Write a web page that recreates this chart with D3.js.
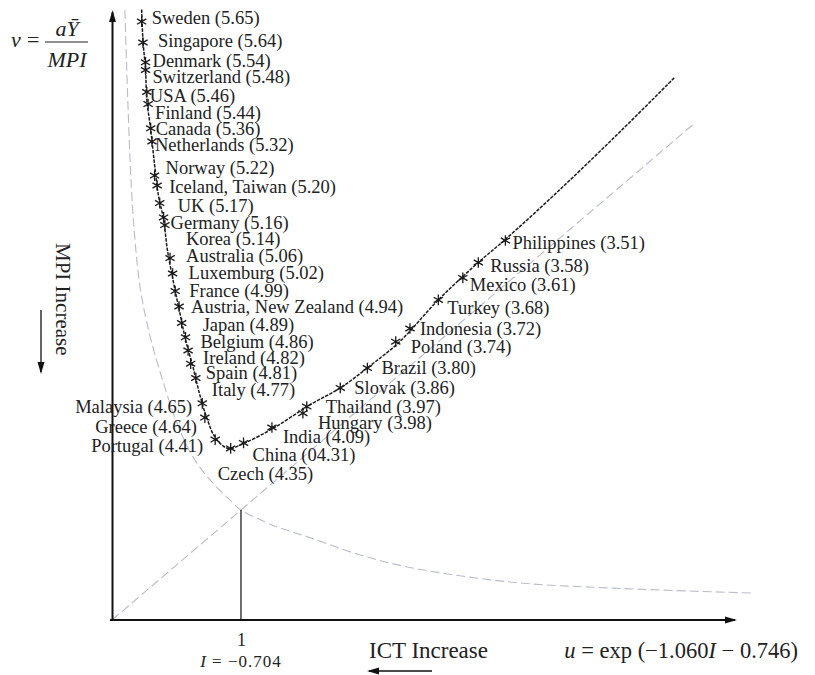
<!DOCTYPE html>
<html>
<head>
<meta charset="UTF-8">
<title>ICT and MPI</title>
<script src="https://d3js.org/d3.v7.min.js"></script>
<style>
  body { margin: 0; background: #fff; }
  .chart { font-family: "Liberation Serif", "Times New Roman", serif; }
  .lbl { font-size: 18.5px; fill: #222; }
  .axis path { stroke: #111; stroke-width: 2; }
  .axis text { font-family: "Liberation Serif", serif; font-size: 18px; fill: #222; }
</style>
</head>
<body>
<svg class="chart" width="815" height="675"></svg>
<script>
// ---------------------------------------------------------------
// data (u = ICT axis, v = MPI axis)
var countries = ["Sweden", "Singapore", "Denmark", "Switzerland", "USA", "Finland", "Canada",
  "Netherlands", "Norway", "Iceland, Taiwan", "UK", "Germany", "Korea", "Australia", "Luxemburg",
  "France", "Austria, New Zealand", "Japan", "Belgium", "Ireland", "Spain", "Italy", "Malaysia",
  "Greece", "Portugal", "Czech", "China", "India", "Hungary", "Thailand", "Slovak", "Brazil",
  "Poland", "Indonesia", "Turkey", "Mexico", "Russia", "Philippines"];
var scores = ["5.65", "5.64", "5.54", "5.48", "5.46", "5.44", "5.36", "5.32", "5.22", "5.20",
  "5.17", "5.16", "5.14", "5.06", "5.02", "4.99", "4.94", "4.89", "4.86", "4.82", "4.81", "4.77",
  "4.65", "4.64", "4.41", "4.35", "04.31", "4.09", "3.98", "3.97", "3.86", "3.80", "3.74", "3.72",
  "3.68", "3.61", "3.58", "3.51"];
var uVals = [0.23, 0.24, 0.26, 0.26, 0.27, 0.28, 0.30, 0.31, 0.33, 0.35, 0.37, 0.40, 0.41, 0.45,
  0.47, 0.49, 0.52, 0.54, 0.57, 0.59, 0.61, 0.65, 0.70, 0.72, 0.80, 0.92, 1.02, 1.24, 1.48, 1.51,
  1.77, 1.98, 2.20, 2.31, 2.53, 2.72, 2.84, 3.05];
var vVals = [5.44, 5.25, 5.07, 5.00, 4.80, 4.69, 4.47, 4.35, 4.04, 3.95, 3.79, 3.66, 3.59, 3.29,
  3.15, 2.99, 2.85, 2.70, 2.57, 2.45, 2.33, 2.20, 1.97, 1.84, 1.64, 1.56, 1.61, 1.75, 1.88, 1.94,
  2.11, 2.29, 2.53, 2.65, 2.91, 3.11, 3.25, 3.45];

// fitted curve through the countries
var fitU = [0.23, 0.24, 0.26, 0.27, 0.30, 0.33, 0.36, 0.40, 0.43, 0.48, 0.53, 0.57, 0.63, 0.68,
  0.74, 0.80, 0.90, 1.03, 1.26, 1.54, 1.77, 2.00, 2.23, 2.53, 2.84, 3.05, 3.47, 3.94, 4.36];
var fitV = [5.55, 5.27, 5.00, 4.73, 4.46, 4.14, 3.86, 3.64, 3.36, 3.05, 2.77, 2.55, 2.29, 2.05,
  1.82, 1.66, 1.56, 1.61, 1.75, 1.96, 2.11, 2.31, 2.53, 2.91, 3.25, 3.46, 3.91, 4.44, 4.93];

// hyperbola-like boundary (grey dashed)
var hypU = [0.10, 0.112, 0.128, 0.147, 0.178, 0.221, 0.287, 0.38, 0.504, 0.628, 0.76, 0.938, 1.00,
  1.25, 1.52, 1.90, 2.30, 3.09, 3.88, 4.97];
var hypV = [5.545, 5.09, 4.545, 4.00, 3.455, 3.00, 2.618, 2.227, 1.791, 1.482, 1.273, 1.064, 1.00,
  0.86, 0.755, 0.60, 0.48, 0.345, 0.29, 0.245];

// 45 degree line and the point I = -0.704 (u = 1)
var diagU = [0, 4.5];
var diagV = [0, 4.5];
var markU = 1;
var markV = 1;
var xTicks = [1];

// label nudges in px [dx, dy, anchor]
var nudges = [[10,-4,"start"],[15,-2,"start"],[7,-2,"start"],[7,7,"start"],[3,4,"start"],
  [7,8,"start"],[5,0,"start"],[3,3,"start"],[11,-8,"start"],[12,1,"start"],[18,2,"start"],
  [7,5,"start"],[21,13,"start"],[16,-3,"start"],[16,-1,"start"],[14,-1,"start"],[12,0,"start"],
  [21,2,"start"],[15,4,"start"],[15,7,"start"],[15,9,"start"],[16,12,"start"],[-10,3,"end"],
  [-8,9,"end"],[-12,6,"end"],[-13,25,"start"],[9,12,"start"],[11,9,"start"],[15,9,"start"],
  [19,0,"start"],[14,0,"start"],[14,-1,"start"],[15,5,"start"],[10,0,"start"],[9,8,"start"],
  [7,7,"start"],[12,3,"start"],[7,2,"start"]];

// ---------------------------------------------------------------
var svg = d3.select(".chart");
var x = d3.scaleLinear().domain([0, 4.9]).range([112, 744]);
var y = d3.scaleLinear().domain([0, 5.53]).range([620, 11.7]);

var defs = svg.append("defs");
defs.append("marker")
    .attr("id", "arrow")
    .attr("viewBox", "0 -5 12 10")
    .attr("refX", 10).attr("refY", 0)
    .attr("markerWidth", 12).attr("markerHeight", 10)
    .attr("markerUnits", "userSpaceOnUse")
    .attr("orient", "auto")
  .append("path")
    .attr("d", "M0,-3.5L12,0L0,3.5Z")
    .attr("fill", "#111");

var line = d3.line().x(d => x(d[0])).y(d => y(d[1]));
var smooth = d3.line().x(d => x(d[0])).y(d => y(d[1])).curve(d3.curveCatmullRom);

//==================================================================
// Reference lines
//==================================================================
svg.append("path")
    .attr("d", line(diagU.map((u, i) => [u, diagV[i]])))
    .attr("fill", "none")
    .attr("stroke", "#b9bdca")
    .attr("stroke-width", 1.1)
    .attr("stroke-dasharray", "9,4");

svg.append("path")
    .attr("d", smooth(hypU.map((u, i) => [u, hypV[i]])))
    .attr("fill", "none")
    .attr("stroke", "#b9bdca")
    .attr("stroke-width", 1.1)
    .attr("stroke-dasharray", "9,4");

svg.append("line")
    .attr("x1", x(markU)).attr("x2", x(markU))
    .attr("y1", y(0)).attr("y2", y(markV))
    .attr("stroke", "#222")
    .attr("stroke-width", 1.3);

// fitted curve
svg.append("path")
    .attr("d", smooth(fitU.map((u, i) => [u, fitV[i]])))
    .attr("fill", "none")
    .attr("stroke", "#1c1c1c")
    .attr("stroke-width", 1.5)
    .attr("stroke-dasharray", "3.5,1.2");

//==================================================================
// Axes
//==================================================================
var xAxis = svg.append("g")
    .attr("class", "axis")
    .attr("transform", "translate(0," + y(0) + ")")
    .call(d3.axisBottom(x).tickValues(xTicks).tickSize(0).tickSizeOuter(0).tickPadding(13).tickFormat(d3.format("d")));
xAxis.select(".domain").attr("marker-end", "url(#arrow)").attr("d", "M" + (x(0) - 2) + ",0H" + x(4.83));

var yAxis = svg.append("g")
    .attr("class", "axis")
    .attr("transform", "translate(" + x(0) + ",0)")
    .call(d3.axisLeft(y).tickValues([]).tickSizeOuter(0));
yAxis.select(".domain").attr("marker-end", "url(#arrow)");

//==================================================================
// Countries
//==================================================================
var pts = svg.append("g")
  .selectAll("g")
  .data(countries)
  .enter().append("g")
    .attr("transform", (d, i) => "translate(" + x(uVals[i]) + "," + y(vVals[i]) + ")");

pts.append("path")
    .attr("d", d3.symbol(d3.symbolAsterisk, 80))
    .attr("fill", "none")
    .attr("stroke", "#1a1a1a")
    .attr("stroke-width", 1.3);

pts.append("text")
    .attr("class", "lbl")
    .attr("x", (d, i) => nudges[i][0])
    .attr("y", (d, i) => nudges[i][1])
    .attr("dy", "0.35em")
    .attr("text-anchor", (d, i) => nudges[i][2])
    .text((d, i) => d + " (" + scores[i] + ")");

//==================================================================
// Titles
//==================================================================
var vt = svg.append("g").attr("font-size", 22).attr("font-style", "italic").attr("fill", "#222");
vt.append("text").attr("x", 11).attr("y", 47).text("v");
vt.append("text").attr("x", 27).attr("y", 47).attr("font-style", "normal").text("=");
vt.append("text").attr("x", 67).attr("y", 36).attr("text-anchor", "middle").text("a\u0232");
vt.append("line").attr("x1", 45).attr("x2", 88).attr("y1", 42).attr("y2", 42)
    .attr("stroke", "#222").attr("stroke-width", 1.2);
vt.append("text").attr("x", 67).attr("y", 67).attr("text-anchor", "middle").text("MPI");

svg.append("text")
    .attr("transform", "translate(56,243) rotate(90)")
    .attr("font-size", 21)
    .attr("fill", "#222")
    .text("MPI Increase");
svg.append("line")
    .attr("x1", 41).attr("x2", 41).attr("y1", 310).attr("y2", 372)
    .attr("stroke", "#111").attr("stroke-width", 1.3)
    .attr("marker-end", "url(#arrow)");

svg.append("text")
    .attr("x", x(markU)).attr("y", 667)
    .attr("text-anchor", "middle")
    .attr("font-size", 17)
    .attr("letter-spacing", 1)
    .attr("fill", "#222")
    .html("<tspan font-style='italic'>I</tspan> = \u22120.704");

svg.append("text")
    .attr("x", 369).attr("y", 658)
    .attr("font-size", 23)
    .attr("fill", "#222")
    .text("ICT Increase");
svg.append("line")
    .attr("x1", 432).attr("x2", 369).attr("y1", 671).attr("y2", 671)
    .attr("stroke", "#111").attr("stroke-width", 1.3)
    .attr("marker-end", "url(#arrow)");

svg.append("text")
    .attr("x", 798).attr("y", 658)
    .attr("text-anchor", "end")
    .attr("font-size", 22.5)
    .attr("fill", "#222")
    .html("<tspan font-style='italic'>u</tspan> = exp (\u22121.060<tspan font-style='italic'>I</tspan> \u2212 0.746)");
</script>
</body>
</html>
